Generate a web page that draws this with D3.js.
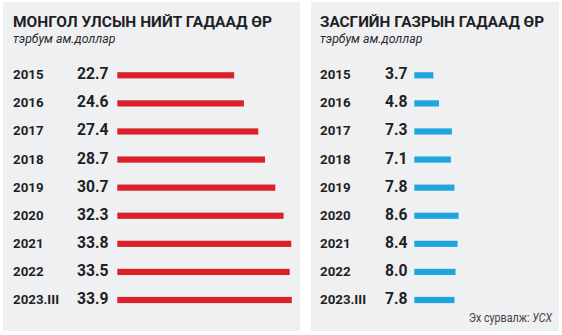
<!DOCTYPE html>
<html><head><meta charset="utf-8">
<script src="https://cdn.jsdelivr.net/npm/d3@7"></script>
<style>
html,body{margin:0;padding:0;background:#fff;}
svg{display:block;}
</style></head>
<body>
<svg id="c" width="562" height="335"></svg>
<script>
const years = ["2015","2016","2017","2018","2019","2020","2021","2022","2023.III"];
const totalDebt = [22.7,24.6,27.4,28.7,30.7,32.3,33.8,33.5,33.9];
const govDebt = [3.7,4.8,7.3,7.1,7.8,8.6,8.4,8.0,7.8];
const titles = ["МОНГОЛ УЛСЫН НИЙТ ГАДААД ӨР","ЗАСГИЙН ГАЗРЫН ГАДААД ӨР"];
const unitLabel = "тэрбум ам.доллар";
const sourceLabel = "Эх сурвалж: ";
const sourceName = "УСХ";

const svg = d3.select("#c");
const panels = [
  {x0:3, x1:300, title:titles[0], tw:259, data:totalDebt, color:"#dc1f2b", yearX:13, valX:108.5, barX:117.3},
  {x0:311, x1:559, title:titles[1], tw:224, data:govDebt, color:"#1ea5de", yearX:320, valX:407.5, barX:414.3}
];
const y = d3.scalePoint().domain(years).range([75.3, 300]);

panels.forEach(p => {
  const g = svg.append("g");
  g.append("rect").attr("x",p.x0).attr("y",2).attr("width",p.x1-p.x0).attr("height",329).attr("fill","#eff0f2");
  g.append("text").attr("x",p.yearX).attr("y",27).text(p.title)
    .attr("font-family","Roboto, 'Open Sans', sans-serif").attr("font-weight",700).attr("font-size",15)
    .attr("textLength",p.tw).attr("lengthAdjust","spacingAndGlyphs").attr("fill","#1f1f24");
  g.append("text").attr("x",p.yearX).attr("y",43).text(unitLabel)
    .attr("font-family","Roboto, sans-serif").attr("font-style","italic").attr("font-size",12.3).attr("fill","#2a2a2e");
  const x = d3.scaleLinear().domain([0,34]).range([p.barX, p.barX + 175]);
  g.selectAll(".yr").data(years).join("text")
    .attr("x",p.yearX).attr("y",d=>y(d)+4).text(d=>d)
    .attr("font-family","Roboto, sans-serif").attr("font-weight",700).attr("font-size",13.3).attr("fill","#1f1f24");
  g.selectAll(".val").data(p.data).join("text")
    .attr("transform",(d,i)=>`translate(${p.valX},${y(years[i])+4}) scale(0.95,1.04)`)
    .text(d=>d.toFixed(1))
    .attr("text-anchor","end")
    .attr("font-family","Roboto, sans-serif").attr("font-weight",700).attr("font-size",16.5)
    .attr("fill","#1f1f24");
  g.selectAll(".bar").data(p.data).join("rect")
    .attr("x",x(0)).attr("y",(d,i)=>y(years[i])-3.1)
    .attr("width",d=>x(d)-x(0)).attr("height",6.2).attr("fill",p.color);
});

const src = svg.append("text").attr("x",552).attr("y",322).attr("text-anchor","end")
  .attr("font-family","Roboto, sans-serif").attr("font-size",12.2)
  .attr("transform","translate(552,322) scale(0.88,1) translate(-552,-322)").attr("fill","#444");
src.append("tspan").text(sourceLabel);
src.append("tspan").attr("font-style","italic").text(sourceName);
</script>
</body></html>
